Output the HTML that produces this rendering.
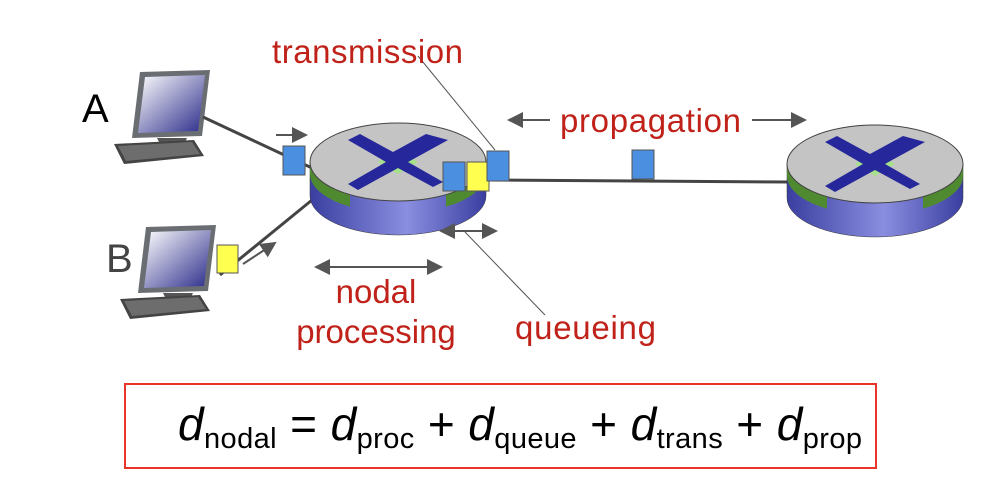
<!DOCTYPE html>
<html><head><meta charset="utf-8"><style>
html,body{margin:0;padding:0;background:#fff;}
svg{display:block;font-family:"Liberation Sans",sans-serif;}
</style></head><body>
<svg width="1002" height="498" viewBox="0 0 1002 498">
<defs>
<linearGradient id="side" x1="0" x2="1" y1="0" y2="0">
<stop offset="0" stop-color="#3a3fa0"/><stop offset="0.55" stop-color="#8a8ee0"/><stop offset="1" stop-color="#3a3fa0"/></linearGradient>
<linearGradient id="scr" x1="0" y1="0" x2="1" y2="1"><stop offset="0" stop-color="#fff"/><stop offset="1" stop-color="#2a2a8a"/></linearGradient>
<clipPath id="ends"><rect x="-100" y="-60" width="52" height="120"/><rect x="48" y="-60" width="52" height="120"/></clipPath>
<marker id="ah" markerWidth="8" markerHeight="8" refX="7" refY="4" orient="auto"><path d="M0,0 L8,4 L0,8 z" fill="#555"/></marker>
<marker id="at" markerWidth="8" markerHeight="8" refX="1" refY="4" orient="auto"><path d="M8,0 L0,4 L8,8 z" fill="#555"/></marker>
<g id="pc">
<path d="M28,0 L98,-2 L90,64 L20,66 z" fill="#6a6e72"/>
<path d="M33,5 L93,3 L86,59 L26,61 z" fill="url(#scr)"/>
<path d="M45,66 L75,66 L72,72 L48,72 z" fill="#555"/>
<path d="M2,72 L82,68 L92,84 L12,92 z" fill="#444"/>
<path d="M6,74 L80,70 L88,82 L14,89 z" fill="#888" opacity="0.6"/>
</g>
<g id="router">
<path d="M-88,-4 L-88,30 A88,39 0 0 0 88,30 L88,-4 z" fill="url(#side)" stroke="#333" stroke-width="0.5"/>
<path d="M-88,-4 L-88,8 A88,39 0 0 0 88,8 L88,-4 z" fill="#4f8a30" clip-path="url(#ends)"/>
<ellipse cx="0" cy="-4" rx="88" ry="39" fill="#c4c4c4" stroke="#444" stroke-width="1"/>
<path d="M-20,-4 L0,-16 L20,-4 L0,8 z" fill="#a6e08a"/>
<path d="M-50,-26 L-38,-32 L-5,-14 L28,-32 L50,-26 L10,-4 L45,16 L35,21 L0,2 L-40,24 L-50,18 L-12,-4 z" fill="#25279a"/>
</g>
</defs>

<use href="#pc" x="112" y="72"/>
<use href="#pc" x="118" y="227"/>
<text x="82" y="122" font-size="40" fill="#000">A</text>
<text x="106" y="272" font-size="40" fill="#444">B</text>

<line x1="203" y1="117" x2="312" y2="168" stroke="#444" stroke-width="3"/>
<line x1="220" y1="275" x2="312" y2="200" stroke="#444" stroke-width="3"/>
<line x1="486" y1="180" x2="790" y2="182" stroke="#444" stroke-width="3"/>

<use href="#router" x="398" y="166"/>
<use href="#router" x="875" y="168"/>

<rect x="283" y="146" width="22" height="29" fill="#4a8fe0" stroke="#555"/>
<rect x="443" y="162" width="22" height="29" fill="#4a8fe0" stroke="#555"/>
<rect x="467" y="162" width="22" height="29" fill="#ffff50" stroke="#555"/>
<rect x="487" y="151" width="22" height="30" fill="#4a8fe0" stroke="#555"/>
<rect x="632" y="150" width="22" height="29" fill="#4a8fe0" stroke="#555"/>
<rect x="217" y="245" width="21" height="28" fill="#ffff50" stroke="#555"/>

<line x1="276" y1="135" x2="306" y2="135" stroke="#555" stroke-width="2" marker-end="url(#ah)"/>
<line x1="243" y1="264" x2="275" y2="243" stroke="#555" stroke-width="2" marker-end="url(#ah)"/>
<line x1="509" y1="120" x2="550" y2="120" stroke="#555" stroke-width="2" marker-start="url(#at)"/>
<line x1="752" y1="120" x2="805" y2="120" stroke="#555" stroke-width="2" marker-end="url(#ah)"/>
<line x1="316" y1="267" x2="441" y2="267" stroke="#555" stroke-width="2" marker-start="url(#at)" marker-end="url(#ah)"/>
<line x1="441" y1="231" x2="496" y2="231" stroke="#555" stroke-width="2" marker-start="url(#at)" marker-end="url(#ah)"/>
<line x1="418" y1="56" x2="495" y2="150" stroke="#555" stroke-width="1"/>
<line x1="465" y1="232" x2="545" y2="315" stroke="#555" stroke-width="1"/>

<g fill="#c0221a" font-size="33">
<text x="272" y="63" textLength="191">transmission</text>
<text x="560" y="132" textLength="181">propagation</text>
<text x="376" y="303" text-anchor="middle">nodal</text>
<text x="376" y="343" text-anchor="middle">processing</text>
<text x="515" y="339" textLength="141">queueing</text>
</g>

<rect x="125" y="384" width="751" height="84" fill="none" stroke="#e8352a" stroke-width="2"/>
<text x="178" y="440" font-size="46" fill="#000" textLength="684" lengthAdjust="spacing"><tspan font-style="italic">d</tspan><tspan font-size="29" dy="8">nodal</tspan><tspan dy="-8"> = </tspan><tspan font-style="italic">d</tspan><tspan font-size="29" dy="8">proc</tspan><tspan dy="-8"> + </tspan><tspan font-style="italic">d</tspan><tspan font-size="29" dy="8">queue</tspan><tspan dy="-8"> + </tspan><tspan font-style="italic">d</tspan><tspan font-size="29" dy="8">trans</tspan><tspan dy="-8"> +  </tspan><tspan font-style="italic">d</tspan><tspan font-size="29" dy="8">prop</tspan></text>
</svg>
</body></html>
